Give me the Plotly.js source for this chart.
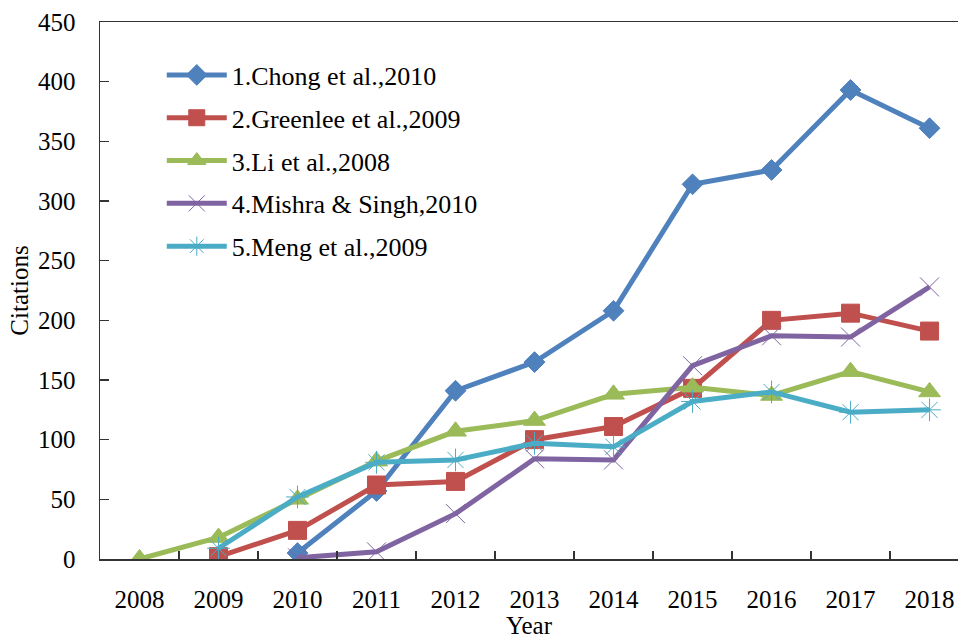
<!DOCTYPE html>
<html>
<head>
<meta charset="utf-8">
<script src="https://cdn.plot.ly/plotly-3.0.1.min.js"></script>
<style>html,body{margin:0;padding:0;background:#fff;}#chart{width:958px;height:639px;}</style>
</head>
<body>
<div id="chart"></div>
<script>
const years = ['2008','2009','2010','2011','2012','2013','2014','2015','2016','2017','2018'];
const seriesNames = ['1.Chong et al.,2010','2.Greenlee et al.,2009','3.Li et al.,2008','4.Mishra & Singh,2010','5.Meng et al.,2009'];
const chong    = [null, null, 5, 57, 141, 165, 208, 314, 326, 393, 361];
const greenlee = [null, 2, 24, 62, 65, 100, 111, 143, 200, 206, 191];
const li       = [0, 18, 50, 82, 107, 116, 138, 144, 137, 157, 140];
const mishra   = [null, null, 1, 6, 38, 84, 83, 162, 187, 186, 228];
const meng     = [null, 9, 52, 81, 83, 97, 94, 132, 140, 123, 125];
const yTicks = [0, 50, 100, 150, 200, 250, 300, 350, 400, 450];

const colors = ['#4F81BD', '#C0504D', '#9BBB59', '#8064A2', '#4BACC6'];
const symbols = ['diamond', 'square', 'triangle-up', 'x-thin-open', 'asterisk-open'];
const sizes = [16, 18, 19, 19, 19];
const values = [chong, greenlee, li, mishra, meng];

const traces = values.map((v, i) => ({
  type: 'scatter',
  mode: 'lines+markers',
  x: years,
  y: v,
  name: seriesNames[i],
  legendgroup: 'g' + i,
  line: {color: colors[i], width: 5},
  marker: {symbol: symbols[i], size: sizes[i], color: colors[i],
           line: {color: colors[i], width: 1}},
  connectgaps: false
}));

const font = {family: '"Liberation Serif", "Times New Roman", serif', color: '#000'};

const layout = {
  width: 958, height: 639,
  margin: {l: 100, r: 0, t: 22, b: 80},
  paper_bgcolor: '#fff', plot_bgcolor: '#fff',
  font: Object.assign({size: 25}, font),
  showlegend: true,
  legend: {
    x: 0.072, y: 0.945, xanchor: 'left', yanchor: 'top',
    font: Object.assign({size: 26}, font),
    itemwidth: 60,
    bgcolor: 'rgba(0,0,0,0)', tracegroupgap: 6, traceorder: 'grouped'
  },
  xaxis: {
    type: 'category',
    range: [-0.5, 10.36],
    tickson: 'boundaries',
    ticks: 'inside', ticklen: 8, tickcolor: '#333', tickwidth: 1.5,
    showline: true, linecolor: '#333', linewidth: 1.5, mirror: true,
    showgrid: false, zeroline: false,
    tickfont: Object.assign({size: 25}, font),
    ticklabelstandoff: 17,
    title: {text: 'Year', font: Object.assign({size: 25}, font), standoff: 6},
    automargin: false, fixedrange: true
  },
  yaxis: {
    range: [0, 450],
    tickvals: yTicks,
    ticks: 'inside', ticklen: 9, tickcolor: '#333', tickwidth: 1.5,
    showline: true, linecolor: '#333', linewidth: 1.5,
    showgrid: false, zeroline: false,
    tickfont: Object.assign({size: 25}, font),
    ticklabelstandoff: 18,
    title: {text: 'Citations', font: Object.assign({size: 25}, font), standoff: 2},
    automargin: false, fixedrange: true
  }
};

Plotly.newPlot('chart', traces, layout, {displayModeBar: false, staticPlot: true});
</script>
</body>
</html>
